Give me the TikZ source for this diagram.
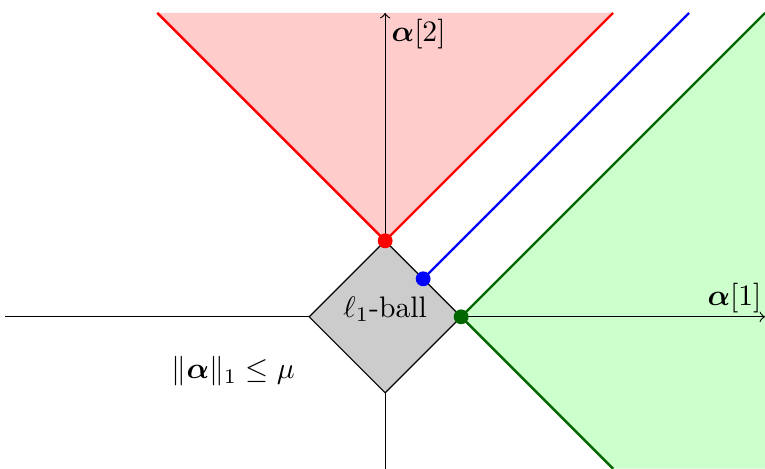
\documentclass[tikz,border=0pt]{standalone}
\usepackage{amsmath,amssymb}
\usepackage{bm}
\usetikzlibrary{arrows,positioning,calc}

\begin{document}
\begin{tikzpicture}[>=to,x=0.9cm,y=0.9cm]
\tikzset{dot/.style={circle,fill,inner sep=0pt,minimum size=5pt},
         cone/.style={thick}}
\useasboundingbox (-5.07,-2) rectangle (5,4.17);
\coordinate (xl) at (-5,0);
\coordinate (xr) at (5,0);
\coordinate (yb) at (0,-2);
\coordinate (yt) at (0,4);
% cones
\fill[red!20] (0,1) -- (-3,4) -- (3,4) -- cycle;
\fill[green!20] (1,0) -- (5,4) -- (5,-2) -- (3,-2) -- cycle;
% axes
\draw[->] (xl) -- (xr) node[above left,inner sep=1pt]{$\bm{\alpha}[1]$};
\draw[->] (yb) -- (yt) node[below right,inner sep=2pt]{$\bm{\alpha}[2]$};
% ball
\draw[fill=gray!40] (1,0) -- (0,1) -- (-1,0) -- (0,-1) -- cycle;
\node (ball) at (0,0.1) {$\ell_1$-ball};
\node (cons) at (-2,-0.72) {$\|\bm{\alpha}\|_1 \leq \mu$};
% extreme points
\node[dot,red] (pr) at (0,1) {};
\node[dot,blue] (pb) at (0.5,0.5) {};
\node[dot,green!40!black] (pg) at (1,0) {};
\coordinate (rl) at (-3,4);
\coordinate (rr) at (3,4);
\coordinate (bt) at (4,4);
\coordinate (gt) at (5,4);
\coordinate (gb) at (3,-2);
\draw[cone,red] (rl) -- (pr.center) -- (rr);
\draw[cone,blue] (pb.center) -- (bt);
\draw[cone,green!40!black] (gt) -- (pg.center) -- (gb);
\end{tikzpicture}
\end{document}
